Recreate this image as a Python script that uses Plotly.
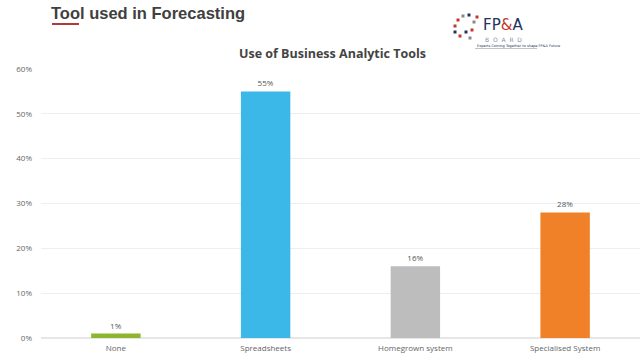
import plotly.graph_objects as go

categories = ["None", "Spreadsheets", "Homegrown system", "Specialised System"]
values = [1, 55, 16, 28]
labels = ["1%", "55%", "16%", "28%"]
colors = ["#8db52d", "#3bb8e8", "#bdbdbd", "#f08129"]
tick_vals = [0, 10, 20, 30, 40, 50, 60]
tick_text = ["0%", "10%", "20%", "30%", "40%", "50%", "60%"]

fig = go.Figure(go.Bar(
    x=categories, y=values, marker=dict(color=colors, line=dict(width=0)),
    width=0.33, text=labels, textposition="outside",
    textfont=dict(family="Open Sans", size=8, color="#555555"), cliponaxis=False,
))

fig.update_layout(
    width=640, height=360, margin=dict(l=41, r=0, t=69, b=22),
    paper_bgcolor="white", plot_bgcolor="white", showlegend=False,
    xaxis=dict(showgrid=False, showline=False, ticks="", ticklabelstandoff=4,
               tickfont=dict(family="Open Sans", size=8, color="#666666")),
    yaxis=dict(range=[0, 60], tickvals=tick_vals, ticktext=tick_text, showgrid=True,
               gridcolor="#eeeeee", gridwidth=1, zeroline=True, zerolinecolor="#e6e6e6",
               ticks="", ticklabelstandoff=8,
               tickfont=dict(family="Open Sans", size=8, color="#666666")),
)
H = 360
pl, pw, ph = 41, 599, 269
def px(x): return (x - pl) / pw
def py(y): return (H - 22 - y) / ph

fig.add_annotation(text="<b>Tool used in Forecasting</b>", x=px(49), y=py(13), xref="paper", yref="paper",
                   xanchor="left", yanchor="middle", showarrow=False,
                   font=dict(family="Liberation Sans", size=16.5, color="#404040"))
fig.add_shape(type="line", x0=px(52), x1=px(79), y0=py(24), y1=py(24), xref="paper", yref="paper",
              line=dict(color="#b03a3a", width=2))
fig.add_annotation(text="<b>Use of Business Analytic Tools</b>", x=px(332), y=py(54), xref="paper", yref="paper",
                   xanchor="center", yanchor="middle", showarrow=False,
                   font=dict(family="Open Sans", size=12.5, color="#444444"))
# Logo
fig.add_annotation(text="FP<span style='color:#c0392b'>&</span>A", x=px(482), y=py(34.5), xref="paper", yref="paper",
                   xanchor="left", yanchor="bottom", showarrow=False, borderpad=0,
                   font=dict(family="DejaVu Sans", size=15, color="#23325e"))
fig.add_annotation(text="B  O  A  R  D", x=px(484), y=py(35), xref="paper", yref="paper",
                   xanchor="left", yanchor="top", showarrow=False, borderpad=0,
                   font=dict(family="DejaVu Sans", size=6, color="#8a8fa6"))
fig.add_annotation(text="Experts Coming Together to shape FP&A Future", x=px(476), y=py(43), xref="paper", yref="paper",
                   xanchor="left", yanchor="top", showarrow=False, borderpad=0,
                   font=dict(family="DejaVu Sans", size=3.5, color="#23325e"))
fig.add_shape(type="line", x0=px(475), x1=px(537), y0=py(48.5), y1=py(48.5), xref="paper", yref="paper",
              line=dict(color="#999999", width=0.6))
dots = [(458, 20, "#c0392b"), (463, 16, "#888888"), (469, 15, "#23325e"), (455, 26, "#c0392b"),
        (455, 32, "#23325e"), (460, 36, "#c0392b"), (466, 32, "#23325e"), (472, 30, "#c0392b"),
        (474, 22, "#888888"), (470, 38, "#888888"), (477, 17, "#c0392b")]
for (dx, dy, c) in dots:
    fig.add_shape(type="rect", x0=px(dx - 1.5), x1=px(dx + 1.5), y0=py(dy - 1.5), y1=py(dy + 1.5),
                  xref="paper", yref="paper", fillcolor=c, line=dict(width=0))

fig.write_html("out.html")
